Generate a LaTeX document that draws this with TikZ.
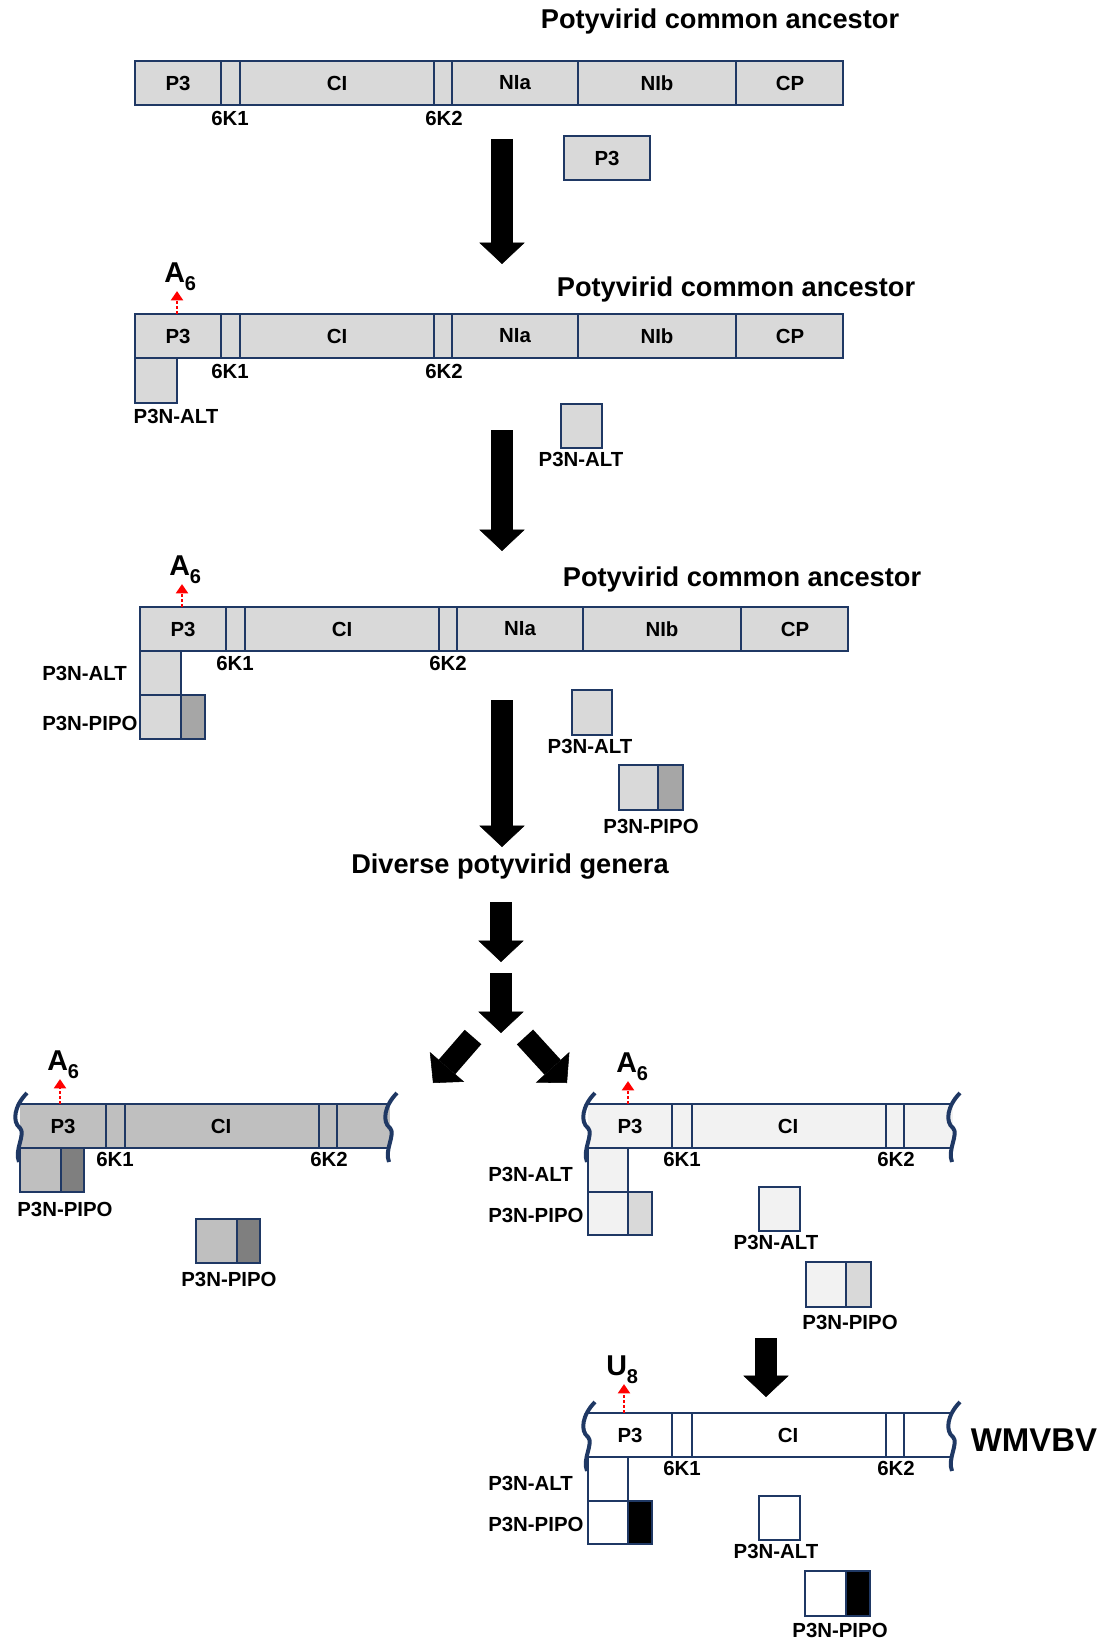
\documentclass[tikz,border=0pt]{standalone}
\usepackage{fontspec}
\setmainfont{Liberation Sans}
\usetikzlibrary{arrows.meta}
\definecolor{navyb}{RGB}{31,56,100}
\definecolor{gDD}{HTML}{D9D9D9}
\definecolor{gAA}{HTML}{A6A6A6}
\definecolor{gBB}{HTML}{BFBFBF}
\definecolor{gSS}{HTML}{7F7F7F}
\definecolor{gFF}{HTML}{F2F2F2}
\newcommand{\lowidx}[1]{\raisebox{-0.3em}{\fontsize{15}{16}\selectfont #1}}

\begin{document}
\begin{tikzpicture}[x=0.75pt,y=0.75pt,yscale=-1,xscale=1,
	seg/.style={draw=navyb,line width=1.5pt},
	lab/.style={inner sep=0pt,font=\fontsize{15.3}{18}\selectfont\bfseries},
	ttl/.style={inner sep=0pt,font=\fontsize{20.4}{24}\selectfont\bfseries},
	mut/.style={inner sep=0pt,anchor=base west,font=\fontsize{21.5}{24}\selectfont\bfseries},
	bigarrow/.style={line width=16.5pt,-{Triangle[width=34pt,length=16pt,line width=0.4pt]}},
	mutarrow/.style={red,line width=2.2pt,dash pattern=on 2pt off 1.8pt,-{Triangle[width=9pt,length=7pt]}},
	brk/.style={draw=navyb,line width=3pt},
	wavebrk/.pic={\draw[brk] (7,11) .. controls (-6,-2) and (-8,-18) .. (0,-24) .. controls (6,-30) and (-6,-46) .. (-1,-58);}]
		\useasboundingbox (0,0) rectangle (1103,1641);
		
		%%% Stage 1
		% Text Node
		\node[ttl] (t1) at (720,21) {Potyvirid common ancestor};
		%Shape: Rectangle
		\draw[seg,fill=gDD] (135,61) rectangle (843,105);
		%Straight Lines
		\draw[seg] (221,61) -- (221,105) (240,61) -- (240,105) (434,61) -- (434,105) (452,61) -- (452,105) (578,61) -- (578,105) (736,61) -- (736,105);
		% Text Node
		\node[lab] (s1p3) at (178,83) {P3};
		\node[lab] (s1ci) at (337,83) {CI};
		\node[lab] (s1nia) at (515,83) {NIa};
		\node[lab] (s1nib) at (657,83) {NIb};
		\node[lab] (s1cp) at (790,83) {CP};
		\node[lab] (s1k1) at (230,118) {6K1};
		\node[lab] (s1k2) at (444,118) {6K2};
		%Shape: Rectangle
		\draw[seg,fill=gDD] (564,136) rectangle (650,180);
		\node[lab] (s1fp3) at (607,158) {P3};
		%Arrow
		\coordinate (a1s) at (502,139);
		\coordinate (a1e) at (502,264);
		\draw[bigarrow] (a1s) -- (a1e);
		
		%%% Stage 2
		\node[ttl] (t2) at (736,289) {Potyvirid common ancestor};
		\draw[seg,fill=gDD] (135,314) rectangle (843,358);
		\draw[seg] (221,314) -- (221,358) (240,314) -- (240,358) (434,314) -- (434,358) (452,314) -- (452,358) (578,314) -- (578,358) (736,314) -- (736,358);
		\node[lab] (s2p3) at (178,336) {P3};
		\node[lab] (s2ci) at (337,336) {CI};
		\node[lab] (s2nia) at (515,336) {NIa};
		\node[lab] (s2nib) at (657,336) {NIb};
		\node[lab] (s2cp) at (790,336) {CP};
		\node[lab] (s2k1) at (230,371) {6K1};
		\node[lab] (s2k2) at (444,371) {6K2};
		% A6 mutation
		\node[mut] (m2) at (164,282) {A\lowidx{6}};
		\coordinate (r2) at (177,314);
		\draw[mutarrow] (r2) -- (r2 |- m2.south);
		%Shape: Rectangle
		\draw[seg,fill=gDD] (135,358) rectangle (177,403);
		\node[lab] (s2alt) at (176,416) {P3N-ALT};
		\draw[seg,fill=gDD] (561,404) rectangle (602,448);
		\node[lab] (s2falt) at (581,459) {P3N-ALT};
		\coordinate (a2s) at (502,430);
		\coordinate (a2e) at (502,551);
		\draw[bigarrow] (a2s) -- (a2e);
		
		%%% Stage 3
		\node[ttl] (t3) at (742,579) {Potyvirid common ancestor};
		\draw[seg,fill=gDD] (140,607) rectangle (848,651);
		\draw[seg] (226,607) -- (226,651) (245,607) -- (245,651) (439,607) -- (439,651) (457,607) -- (457,651) (583,607) -- (583,651) (741,607) -- (741,651);
		\node[lab] (s3p3) at (183,629) {P3};
		\node[lab] (s3ci) at (342,629) {CI};
		\node[lab] (s3nia) at (520,629) {NIa};
		\node[lab] (s3nib) at (662,629) {NIb};
		\node[lab] (s3cp) at (795,629) {CP};
		\node[lab] (s3k1) at (235,663) {6K1};
		\node[lab] (s3k2) at (448,663) {6K2};
		\node[mut] (m3) at (169,575) {A\lowidx{6}};
		\coordinate (r3) at (182,607);
		\draw[mutarrow] (r3) -- (r3 |- m3.south);
		\draw[seg,fill=gDD] (140,651) rectangle (181,695);
		\draw[seg,fill=gDD] (140,695) rectangle (181,739);
		\draw[seg,fill=gAA] (181,695) rectangle (205,739);
		\node[lab,anchor=west] (s3alt) at (42,673) {P3N-ALT};
		\node[lab,anchor=west] (s3pipo) at (42,723) {P3N-PIPO};
		\draw[seg,fill=gDD] (572,690) rectangle (612,735);
		\node[lab] (s3falt) at (590,746) {P3N-ALT};
		\draw[seg,fill=gDD] (619,765) rectangle (658,810);
		\draw[seg,fill=gAA] (658,765) rectangle (683,810);
		\node[lab] (s3fpipo) at (651,826) {P3N-PIPO};
		\coordinate (a3s) at (502,700);
		\coordinate (a3e) at (502,847);
		\draw[bigarrow] (a3s) -- (a3e);
		
		% Text Node
		\node[ttl] (div) at (510,867) {Diverse potyvirid genera};
		\coordinate (a4s) at (501,902);
		\coordinate (a4e) at (501,962);
		\draw[bigarrow] (a4s) -- (a4e);
		\coordinate (a5s) at (501,973);
		\coordinate (a5e) at (501,1033);
		\draw[bigarrow] (a5s) -- (a5e);
		\coordinate (a6s) at (473,1037);
		\coordinate (a6e) at (433,1083);
		\draw[bigarrow] (a6s) -- (a6e);
		\coordinate (a7s) at (525,1037);
		\coordinate (a7e) at (567,1083);
		\draw[bigarrow] (a7s) -- (a7e);
		
		%%% Stage 4, left
		\fill[gBB] (20,1104) rectangle (390,1148);
		\draw[seg] (20,1104) -- (390,1104) (20,1148) -- (390,1148);
		\draw[seg] (106,1104) -- (106,1148) (125,1104) -- (125,1148) (319,1104) -- (319,1148) (337,1104) -- (337,1148);
		\pic at (20,1104) {wavebrk};
		\pic at (390,1104) {wavebrk};
		\node[lab] (l4p3) at (63,1126) {P3};
		\node[lab] (l4ci) at (221,1126) {CI};
		\node[lab] (l4k1) at (115,1159) {6K1};
		\node[lab] (l4k2) at (329,1159) {6K2};
		\node[mut] (m4) at (47,1070) {A\lowidx{6}};
		\coordinate (r4) at (60,1104);
		\draw[mutarrow] (r4) -- (r4 |- m4.south);
		\draw[seg,fill=gBB] (20,1148) rectangle (61,1192);
		\draw[seg,fill=gSS] (61,1148) rectangle (84,1192);
		\node[lab] (l4pipo) at (65,1209) {P3N-PIPO};
		\draw[seg,fill=gBB] (196,1219) rectangle (237,1263);
		\draw[seg,fill=gSS] (237,1219) rectangle (260,1263);
		\node[lab] (l4fpipo) at (229,1279) {P3N-PIPO};
		
		%%% Stage 4, right
		\fill[gFF] (588,1104) rectangle (953,1148);
		\draw[seg] (588,1104) -- (953,1104) (588,1148) -- (953,1148);
		\draw[seg] (672,1104) -- (672,1148) (692,1104) -- (692,1148) (886,1104) -- (886,1148) (904,1104) -- (904,1148);
		\pic at (588,1104) {wavebrk};
		\pic at (953,1104) {wavebrk};
		\node[lab] (r4p3) at (630,1126) {P3};
		\node[lab] (r4ci) at (788,1126) {CI};
		\node[lab] (r4k1) at (682,1159) {6K1};
		\node[lab] (r4k2) at (896,1159) {6K2};
		\node[mut] (m5) at (616,1072) {A\lowidx{6}};
		\coordinate (r5) at (628,1104);
		\draw[mutarrow] (r5) -- (r5 |- m5.south);
		\draw[seg,fill=gFF] (588,1148) rectangle (628,1192);
		\draw[seg,fill=gFF] (588,1192) rectangle (628,1235);
		\draw[seg,fill=gDD] (628,1192) rectangle (652,1235);
		\node[lab,anchor=west] (r4alt) at (488,1174) {P3N-ALT};
		\node[lab,anchor=west] (r4pipo) at (488,1215) {P3N-PIPO};
		\draw[seg,fill=gFF] (759,1187) rectangle (800,1231);
		\node[lab] (r4falt) at (776,1242) {P3N-ALT};
		\draw[seg,fill=gFF] (806,1262) rectangle (846,1307);
		\draw[seg,fill=gDD] (846,1262) rectangle (871,1307);
		\node[lab] (r4fpipo) at (850,1322) {P3N-PIPO};
		\coordinate (a8s) at (766,1338);
		\coordinate (a8e) at (766,1397);
		\draw[bigarrow] (a8s) -- (a8e);
		
		%%% Stage 5, WMVBV
		\fill[white] (588,1413) rectangle (953,1457);
		\draw[seg] (588,1413) -- (953,1413) (588,1457) -- (953,1457);
		\draw[seg] (672,1413) -- (672,1457) (692,1413) -- (692,1457) (886,1413) -- (886,1457) (904,1413) -- (904,1457);
		\pic at (588,1413) {wavebrk};
		\pic at (953,1413) {wavebrk};
		\node[lab] (w5p3) at (630,1435) {P3};
		\node[lab] (w5ci) at (788,1435) {CI};
		\node[lab] (w5k1) at (682,1468) {6K1};
		\node[lab] (w5k2) at (896,1468) {6K2};
		\node[inner sep=0pt,font=\fontsize{24.7}{28}\selectfont\bfseries] (wmv) at (1034,1440) {WMVBV};
		\node[mut] (m6) at (606,1375) {U\lowidx{8}};
		\coordinate (r6) at (624,1413);
		\draw[mutarrow] (r6) -- (r6 |- m6.south);
		\draw[seg,fill=white] (588,1457) rectangle (628,1501);
		\draw[seg,fill=white] (588,1501) rectangle (628,1544);
		\draw[seg,fill=black] (628,1501) rectangle (652,1544);
		\node[lab,anchor=west] (w5alt) at (488,1483) {P3N-ALT};
		\node[lab,anchor=west] (w5pipo) at (488,1524) {P3N-PIPO};
		\draw[seg,fill=white] (759,1496) rectangle (800,1540);
		\node[lab] (w5falt) at (776,1551) {P3N-ALT};
		\draw[seg,fill=white] (805,1571) rectangle (846,1616);
		\draw[seg,fill=black] (846,1571) rectangle (870,1616);
		\node[lab] (w5fpipo) at (840,1630) {P3N-PIPO};
		
\end{tikzpicture}
\end{document}
